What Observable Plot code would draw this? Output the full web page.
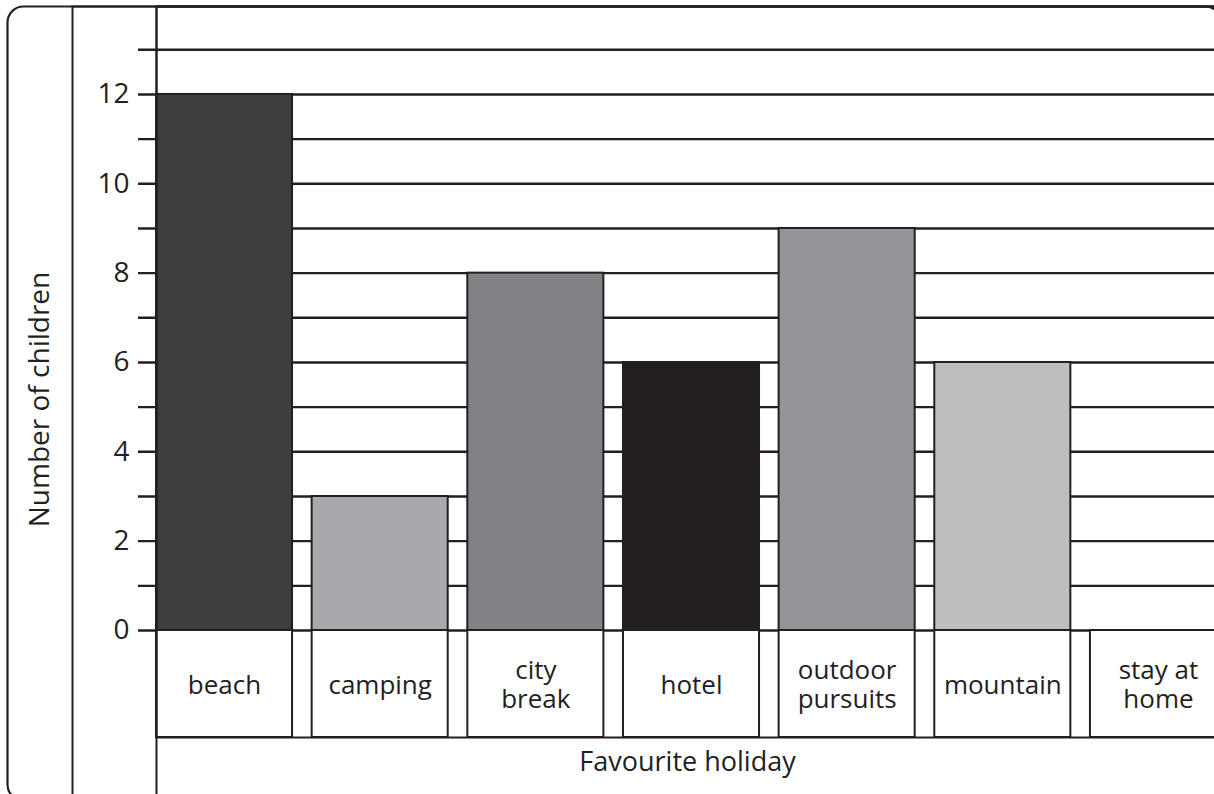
<!DOCTYPE html>
<html>
<head>
<meta charset="utf-8">
<script src="https://cdn.jsdelivr.net/npm/d3@7"></script>
<script src="https://cdn.jsdelivr.net/npm/@observablehq/plot@0.6"></script>
<style>
  html, body { margin: 0; padding: 0; background: #fff; }
  #chart svg { display: block; }
</style>
</head>
<body>
<div id="chart"></div>
<script>
// ---- data ----
const holidays = ["beach", "camping", "city break", "hotel", "outdoor pursuits", "mountain", "stay at home"];
const boxLabels = ["beach", "camping", "city\nbreak", "hotel", "outdoor\npursuits", "mountain", "stay at\nhome"];
const children = [12, 3, 8, 6, 9, 6, 0];
const barColors = ["#3e3e3f", "#a7a9ac", "#808285", "#231f20", "#939598", "#bcbec0", "#ffffff"];
const yTicks = [0, 2, 4, 6, 8, 10, 12];
const gridLines = [0, 1, 2, 3, 4, 5, 6, 7, 8, 9, 10, 11, 12, 13];
const yLabel = "Number of children";
const xLabel = "Favourite holiday";

const data = holidays.map((h, i) => ({holiday: h, label: boxLabels[i], children: children[i], color: barColors[i]}));

const ink = "#231f20";
const W = 1214, H = 794;
const font = "'Open Sans', 'DejaVu Sans', sans-serif";

const chart = Plot.plot({
  width: W,
  height: H,
  marginLeft: 138,
  marginRight: 0,
  marginTop: 0,
  marginBottom: 0,
  style: {fontFamily: font, fontSize: "28px", color: ink, background: "#fff"},
  x: {type: "band", domain: holidays, range: [156, 1226], paddingInner: 0.126, paddingOuter: 0, align: 0, round: false, axis: null},
  y: {domain: [0, 13], range: [630, 49.3], ticks: yTicks, tickSize: 0, tickPadding: 9, label: null, axis: "left"},
  color: {type: "identity"},
  marks: [
    // horizontal ruled lines (tick marks + grid)
    Plot.ruleY(gridLines, {stroke: ink, strokeWidth: 2.4}),
    // bars
    Plot.barY(data, {x: "holiday", y: "children", fill: "color", stroke: ink, strokeWidth: 2}),
    // label boxes under each bar
    Plot.barY(data, {x: "holiday", y1: () => 0, y2: () => 0, insetBottom: -107, fill: "#fff", stroke: ink, strokeWidth: 2}),
    // outer rounded border
    Plot.frame({stroke: ink, strokeWidth: 2.2, rx: 16, insetLeft: -131, insetTop: 6, insetRight: -7, insetBottom: -6}),
    // left column divider
    Plot.frame({stroke: ink, strokeWidth: 2, insetLeft: -66, insetTop: 6, insetRight: -40, insetBottom: -40}),
    // axis line and bottom of label row
    Plot.frame({stroke: ink, strokeWidth: 2, insetLeft: 18, insetTop: 6, insetRight: -40, insetBottom: 57}),
    Plot.frame({stroke: ink, strokeWidth: 2, insetLeft: 18, insetTop: 6, insetRight: -40, insetBottom: -40}),
    // category labels
    Plot.text(data, {x: "holiday", y: () => 0, text: "label", dy: 54, lineAnchor: "middle", lineHeight: 1.12, fontSize: 26, fill: ink}),
    // axis titles
    Plot.text([yLabel], {frameAnchor: "left", textAnchor: "middle", dx: -98, dy: 2, rotate: -90, fontSize: 28, fill: ink}),
    Plot.text([xLabel], {frameAnchor: "bottom", textAnchor: "middle", dx: 11, dy: -24, fontSize: 27, fill: ink})
  ]
});

document.getElementById("chart").appendChild(chart);
</script>
</body>
</html>
